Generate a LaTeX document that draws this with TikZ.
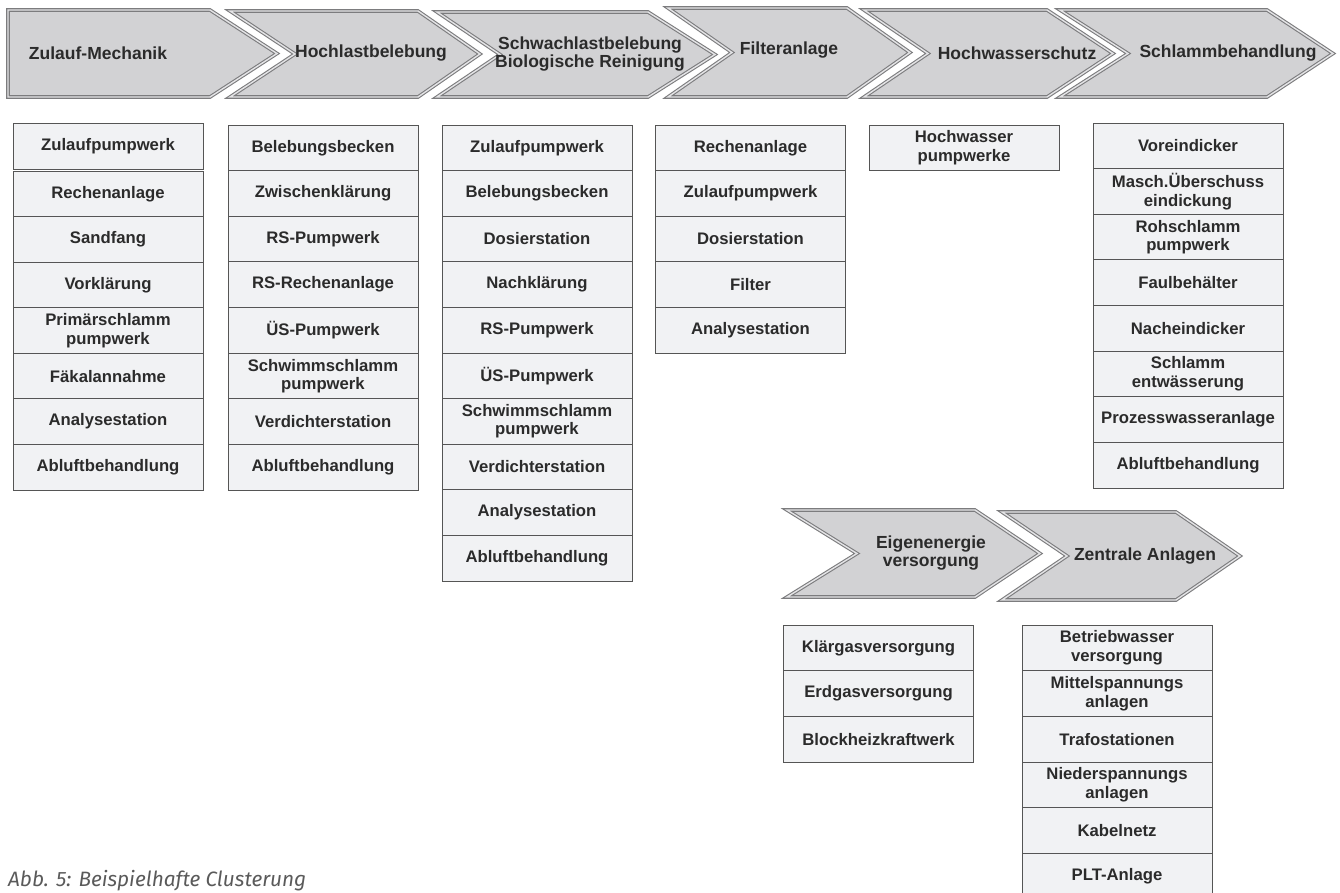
\documentclass[tikz,border=0pt]{standalone}
\usepackage{fontspec}
\setmainfont{Liberation Sans}
\newfontfamily\capfont{Fira Sans}
\definecolor{txt}{HTML}{2B2B2B}
\definecolor{chevfill}{HTML}{D2D2D4}
\definecolor{chevline}{HTML}{7C7C7E}
\definecolor{chevmid}{HTML}{E4E4E6}
\definecolor{boxfill}{HTML}{F1F2F4}
\definecolor{boxline}{HTML}{555555}
\definecolor{capgray}{HTML}{5A5A5A}
\tikzset{
  chev/.style={fill=chevfill, draw=chevline, line width=1.1pt, double=chevmid, double distance=1.4pt, line join=miter},
  chevlabel/.style={font=\bfseries\fontsize{17.5}{18.5}\selectfont, text=txt, align=center, inner sep=0pt},
  rowbox/.style={draw=boxline, line width=0.9pt, fill=boxfill, minimum width=190pt, text=txt,
    font=\bfseries\fontsize{16.7}{18.5}\selectfont, align=center, inner sep=0pt, outer sep=0pt},
  caption/.style={font=\capfont\itshape\fontsize{20.8}{24}\selectfont, text=capgray, inner sep=0pt, anchor=base west}
}
% #1 left x, #2 notch depth, #3 top-right x, #4 tip x, #5 top y, #6 bottom y
\newcommand\mychev[6]{%
  \pgfmathsetmacro\mymidy{(#5+#6)/2}%
  \draw[chev] (#1,#5) -- (#3,#5) -- (#4,\mymidy) -- (#3,#6) -- (#1,#6) -- ({#1+#2},\mymidy) -- cycle;}
% #1 name, #2 centre x, #3 top y, #4 row height, #5 list of texts
\newcommand\mycol[5]{%
  \foreach \t [count=\i] in {#5} {
    \node[rowbox, minimum height=#4pt] (#1-\i) at (#2, {#3+(\i-0.5)*#4}) {\t};
  }}
\begin{document}
\begin{tikzpicture}[x=1pt, y=-1pt]
\useasboundingbox (0,0) rectangle (1340,892);
% top chevrons
\mychev{8}{0}{210}{277}{10}{97}
\mychev{230}{65}{418}{480}{11}{97}
\mychev{437}{63}{648}{715}{12}{97}
\mychev{668}{64}{847}{910}{8}{97}
\mychev{864}{64}{1047}{1113}{10}{97}
\mychev{1060}{68}{1267}{1333}{10}{97}
% lower chevrons
\mychev{787}{70}{975}{1040}{510}{597}
\mychev{1002}{65}{1176}{1240}{512}{600}
% chevron labels
\node[chevlabel] (h1) at (98,53) {Zulauf-Mechanik};
\node[chevlabel] (h2) at (371,53) {Hochlastbelebung};
\node[chevlabel] (h3) at (590,54) {Schwachlastbelebung\\Biologische Reinigung};
\node[chevlabel] (h4) at (789,50) {Filteranlage};
\node[chevlabel] (h5) at (1017,53) {Hochwasserschutz};
\node[chevlabel] (h6) at (1228,53) {Schlammbehandlung};
\node[chevlabel] (h7) at (931,553) {Eigenenergie\\versorgung};
\node[chevlabel] (h8) at (1145,556) {Zentrale Anlagen};
% columns
\node[rowbox, minimum height=46pt] (c1-0) at (108,146) {Zulaufpumpwerk};
\mycol{c1}{108}{171}{45.57}{Rechenanlage,Sandfang,Vorklärung,{Primärschlamm\\pumpwerk},Fäkalannahme,Analysestation,Abluftbehandlung}
\mycol{c2}{323}{125}{45.625}{Belebungsbecken,Zwischenklärung,RS-Pumpwerk,RS-Rechenanlage,ÜS-Pumpwerk,{Schwimmschlamm\\pumpwerk},Verdichterstation,Abluftbehandlung}
\mycol{c3}{537}{125}{45.6}{Zulaufpumpwerk,Belebungsbecken,Dosierstation,Nachklärung,RS-Pumpwerk,ÜS-Pumpwerk,{Schwimmschlamm\\pumpwerk},Verdichterstation,Analysestation,Abluftbehandlung}
\mycol{c4}{750.5}{125}{45.6}{Rechenanlage,Zulaufpumpwerk,Dosierstation,Filter,Analysestation}
\mycol{c5}{964}{125}{45}{{Hochwasser\\pumpwerke}}
\mycol{c6}{1188}{123}{45.625}{Voreindicker,{Masch.Überschuss\\eindickung},{Rohschlamm\\pumpwerk},Faulbehälter,Nacheindicker,{Schlamm\\entwässerung},Prozesswasseranlage,Abluftbehandlung}
\mycol{c7}{878.5}{625}{45.67}{Klärgasversorgung,Erdgasversorgung,Blockheizkraftwerk}
\mycol{c8}{1117}{625}{45.67}{{Betriebwasser\\versorgung},{Mittelspannungs\\anlagen},Trafostationen,{Niederspannungs\\anlagen},Kabelnetz,PLT-Anlage}
% caption
\node[caption] (cap) at (8,886) {Abb. 5: Beispielhafte Clusterung};
\end{tikzpicture}
\end{document}
